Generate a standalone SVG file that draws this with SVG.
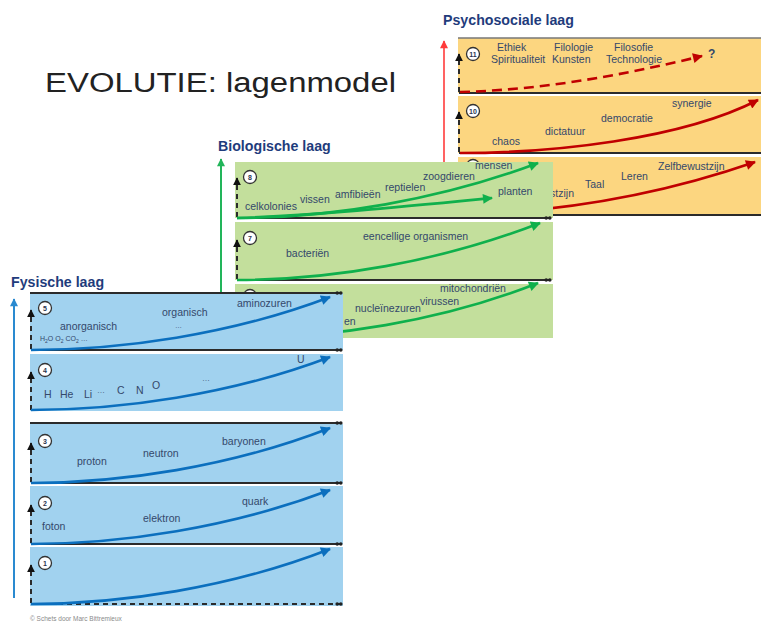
<svg xmlns="http://www.w3.org/2000/svg" width="761" height="623" viewBox="0 0 761 623">
<style>
text{font-family:"Liberation Sans",Arial,sans-serif;fill:#34486b}
.lb{font-size:10.5px}
.ttl{font-size:14.2px;font-weight:bold;fill:#1f3c7c}
.num{font-size:7px;font-weight:bold;text-anchor:middle;fill:#2a3550}
.py{fill:#fcd680}
.bg{fill:#c3df9c}
.bl{fill:#a1d2ef}
.ax{stroke:#2b2b2b;stroke-width:1.8;fill:none}
.axd{stroke:#2b2b2b;stroke-width:2;stroke-dasharray:5 4;fill:none}
.cir{fill:#fff;stroke:#333;stroke-width:1.3}
.cr{stroke:#c00000;stroke-width:2.6;fill:none}
.cg{stroke:#0fb04c;stroke-width:2.6;fill:none}
.cb{stroke:#0b6fbe;stroke-width:2.6;fill:none}
</style>
<defs>
<marker id="mr" viewBox="0 0 10 10" refX="9" refY="5" markerWidth="12" markerHeight="10" markerUnits="userSpaceOnUse" orient="auto"><path d="M0,0L10,5L0,10z" fill="#c00000"/></marker>
<marker id="mg" viewBox="0 0 10 10" refX="9" refY="5" markerWidth="12" markerHeight="10" markerUnits="userSpaceOnUse" orient="auto"><path d="M0,0L10,5L0,10z" fill="#0fb04c"/></marker>
<marker id="mb" viewBox="0 0 10 10" refX="9" refY="5" markerWidth="12" markerHeight="10" markerUnits="userSpaceOnUse" orient="auto"><path d="M0,0L10,5L0,10z" fill="#0b6fbe"/></marker>
<marker id="mk" viewBox="0 0 10 10" refX="9" refY="5" markerWidth="8" markerHeight="8" markerUnits="userSpaceOnUse" orient="auto"><path d="M0,0L10,5L0,10z" fill="#111"/></marker>
<marker id="mlr" viewBox="0 0 10 10" refX="9" refY="5" markerWidth="9" markerHeight="8" markerUnits="userSpaceOnUse" orient="auto"><path d="M0,0L10,5L0,10z" fill="#ff3b3b"/></marker>
<marker id="mlg" viewBox="0 0 10 10" refX="9" refY="5" markerWidth="9" markerHeight="8" markerUnits="userSpaceOnUse" orient="auto"><path d="M0,0L10,5L0,10z" fill="#22b55a"/></marker>
<marker id="mlb" viewBox="0 0 10 10" refX="9" refY="5" markerWidth="9" markerHeight="8" markerUnits="userSpaceOnUse" orient="auto"><path d="M0,0L10,5L0,10z" fill="#2a8ad0"/></marker>
<marker id="mt" viewBox="0 0 8 6" refX="7" refY="3" markerWidth="8" markerHeight="6" markerUnits="userSpaceOnUse" orient="auto"><circle cx="2.2" cy="3" r="1.8" fill="#222"/><circle cx="5.8" cy="3" r="1.8" fill="#222"/></marker>
</defs>
<rect width="761" height="623" fill="#fff"/>
<text x="45" y="92" font-size="27" textLength="351" lengthAdjust="spacingAndGlyphs" style="fill:#222">EVOLUTIE: lagenmodel</text>

<!-- Psychosociale laag -->
<g id="layer-psychosociaal">
<text class="ttl" x="443" y="25">Psychosociale laag</text>
<line x1="444" y1="215" x2="444" y2="41" stroke="#ff3b3b" stroke-width="1.6" marker-end="url(#mlr)"/>
</g>
<g id="panel-11">
<rect class="py" x="458" y="38" width="303" height="55"/>
<line x1="458" y1="38" x2="761" y2="38" stroke="#777" stroke-width="1.5"/>
<line class="ax" x1="459" y1="93" x2="761" y2="93"/>
<path class="axd" d="M459,92V54" marker-end="url(#mk)"/>
<circle class="cir" cx="473" cy="54" r="6.5"/><text class="num" x="473" y="56.5">11</text>
<text class="lb" x="497" y="51">Ethiek</text>
<text class="lb" x="554" y="51">Filologie</text>
<text class="lb" x="614" y="51">Filosofie</text>
<text class="lb" x="491" y="63">Spiritualiteit</text>
<text class="lb" x="552" y="63">Kunsten</text>
<text class="lb" x="606" y="63">Technologie</text>
<text x="708" y="58" font-size="12" font-weight="bold">?</text>
</g>
<g id="panel-10">
<rect class="py" x="458" y="96" width="303" height="57"/>
<line class="ax" x1="459" y1="153" x2="761" y2="153"/>
<path class="axd" d="M459,152V112" marker-end="url(#mk)"/>
<circle class="cir" cx="473" cy="111" r="6.5"/><text class="num" x="473" y="113.5">10</text>
<text class="lb" x="672" y="107">synergie</text>
<text class="lb" x="601" y="122">democratie</text>
<text class="lb" x="545" y="135">dictatuur</text>
<text class="lb" x="492" y="145">chaos</text>
</g>
<g id="panel-9">
<rect class="py" x="458" y="157" width="303" height="58"/>
<line class="ax" x1="459" y1="215" x2="761" y2="215"/>
<path class="axd" d="M459,214V172" marker-end="url(#mk)"/>
<circle class="cir" cx="473" cy="166" r="6.5"/>
<text class="lb" x="658" y="170">Zelfbewustzijn</text>
<text class="lb" x="621" y="180">Leren</text>
<text class="lb" x="585" y="188">Taal</text>
<text class="lb" x="574" y="197" text-anchor="end">stzijn</text>
</g>
<g id="connectors-psychosociaal">
<path class="cr" d="M460,92C540,90 620,76 702,56" stroke-width="3" stroke-dasharray="10 6" marker-end="url(#mr)"/>
<path class="cr" d="M460,153C550,153 680,140 758,100" marker-end="url(#mr)"/>
<path class="cr" d="M460,215C560,212 660,195 755,162" marker-end="url(#mr)"/>
</g>

<!-- Biologische laag -->
<g id="layer-biologisch">
<text class="ttl" x="218" y="151">Biologische laag</text>
<line x1="221" y1="335" x2="221" y2="159" stroke="#22b55a" stroke-width="2" marker-end="url(#mlg)"/>
</g>
<g id="panel-8">
<rect class="bg" x="235" y="162" width="318" height="56"/>
<line class="ax" x1="237" y1="218" x2="551" y2="218" marker-end="url(#mt)"/>
<path class="axd" d="M237,217V178" marker-end="url(#mk)"/>
<circle class="cir" cx="250" cy="177" r="6.5"/><text class="num" x="250" y="179.5">8</text>
<text class="lb" x="245" y="210">celkolonies</text>
<text class="lb" x="300" y="203">vissen</text>
<text class="lb" x="335" y="198">amfibieën</text>
<text class="lb" x="385" y="191">reptielen</text>
<text class="lb" x="423" y="180">zoogdieren</text>
<text class="lb" x="475" y="169">mensen</text>
<text class="lb" x="498" y="195">planten</text>
</g>
<g id="panel-7">
<rect class="bg" x="235" y="222" width="318" height="58"/>
<line class="ax" x1="237" y1="280" x2="551" y2="280" marker-end="url(#mt)"/>
<path class="axd" d="M237,279V240" marker-end="url(#mk)"/>
<circle class="cir" cx="250" cy="238" r="6.5"/><text class="num" x="250" y="240.5">7</text>
<text class="lb" x="363" y="240">eencellige organismen</text>
<text class="lb" x="286" y="257">bacteriën</text>
</g>
<g id="panel-6">
<rect class="bg" x="235" y="284" width="318" height="54"/>
<circle class="cir" cx="250" cy="296" r="6.5"/>
<text class="lb" x="440" y="292">mitochondriën</text>
<text class="lb" x="420" y="305">virussen</text>
<text class="lb" x="355" y="312">nucleïnezuren</text>
<text class="lb" x="344" y="325">en</text>
</g>
<g id="connectors-biologisch">
<path class="cg" d="M237,218C330,218 440,200 538,163" marker-end="url(#mg)"/>
<path class="cg" d="M237,218C320,215 400,207 492,198" marker-end="url(#mg)"/>
<path class="cg" d="M237,280C330,280 440,262 540,223" marker-end="url(#mg)"/>
<path class="cg" d="M237,338C330,338 440,322 538,283" marker-end="url(#mg)"/>
</g>

<!-- Fysische laag -->
<g id="layer-fysisch">
<text class="ttl" x="11" y="287">Fysische laag</text>
<line x1="14" y1="598" x2="14" y2="299" stroke="#2a8ad0" stroke-width="2" marker-end="url(#mlb)"/>
</g>
<g id="panel-5">
<rect class="bl" x="30" y="293" width="313" height="57"/>
<line class="ax" x1="30" y1="293" x2="342" y2="293" stroke="#444" marker-end="url(#mt)"/>
<line class="ax" x1="31" y1="350" x2="342" y2="350" marker-end="url(#mt)"/>
<path class="axd" d="M31,349V310" marker-end="url(#mk)"/>
<circle class="cir" cx="45" cy="308" r="6.5"/><text class="num" x="45" y="310.5">5</text>
<text class="lb" x="237" y="307">aminozuren</text>
<text class="lb" x="162" y="316">organisch</text>
<text x="175" y="328" font-size="7">…</text>
<text class="lb" x="60" y="330">anorganisch</text>
<text x="40" y="341" font-size="7">H<tspan font-size="5" dy="1.5">2</tspan><tspan dy="-1.5">O  O</tspan><tspan font-size="5" dy="1.5">2</tspan><tspan dy="-1.5">  CO</tspan><tspan font-size="5" dy="1.5">2</tspan><tspan dy="-1.5">  …</tspan></text>
</g>
<g id="panel-4">
<rect class="bl" x="30" y="354" width="313" height="57"/>
<path class="axd" d="M31,410V372" marker-end="url(#mk)"/>
<circle class="cir" cx="45" cy="370" r="6.5"/><text class="num" x="45" y="372.5">4</text>
<text class="lb" x="297" y="363">U</text>
<text x="202" y="381" font-size="8">…</text>
<text class="lb" x="44" y="398">H</text>
<text class="lb" x="60" y="398">He</text>
<text class="lb" x="84" y="398">Li</text>
<text x="97" y="393" font-size="8">…</text>
<text class="lb" x="117" y="394">C</text>
<text class="lb" x="136" y="394">N</text>
<text class="lb" x="152" y="389">O</text>
</g>
<g id="panel-3">
<rect class="bl" x="30" y="424" width="313" height="59"/>
<line class="ax" x1="30" y1="423" x2="342" y2="423" marker-end="url(#mt)"/>
<line class="ax" x1="31" y1="483" x2="342" y2="483" marker-end="url(#mt)"/>
<path class="axd" d="M31,482V443" marker-end="url(#mk)"/>
<circle class="cir" cx="45" cy="441" r="6.5"/><text class="num" x="45" y="443.5">3</text>
<text class="lb" x="222" y="445">baryonen</text>
<text class="lb" x="143" y="457">neutron</text>
<text class="lb" x="77" y="465">proton</text>
</g>
<g id="panel-2">
<rect class="bl" x="30" y="486" width="313" height="58"/>
<line class="ax" x1="31" y1="544" x2="342" y2="544" marker-end="url(#mt)"/>
<path class="axd" d="M31,543V505" marker-end="url(#mk)"/>
<circle class="cir" cx="45" cy="503" r="6.5"/><text class="num" x="45" y="505.5">2</text>
<text class="lb" x="242" y="505">quark</text>
<text class="lb" x="143" y="522">elektron</text>
<text class="lb" x="42" y="530">foton</text>
</g>
<g id="panel-1">
<rect class="bl" x="30" y="547" width="313" height="59"/>
<line class="axd" x1="31" y1="604" x2="342" y2="604" stroke-dasharray="9 5" marker-end="url(#mt)"/>
<path class="axd" d="M31,603V565" marker-end="url(#mk)"/>
<circle class="cir" cx="45" cy="563" r="6.5"/><text class="num" x="45" y="565.5">1</text>
</g>
<g id="connectors-fysisch">
<path class="cb" d="M31,350C120,350 230,335 330,297" marker-end="url(#mb)"/>
<path class="cb" d="M31,410C120,410 230,395 330,357" marker-end="url(#mb)"/>
<path class="cb" d="M31,483C120,483 230,467 330,428" marker-end="url(#mb)"/>
<path class="cb" d="M31,544C120,544 230,528 330,490" marker-end="url(#mb)"/>
<path class="cb" d="M31,604C120,604 230,588 330,549" marker-end="url(#mb)"/>
</g>
<text x="30" y="621" font-size="6.5" style="fill:#8a8a8a">© Schets door Marc Bittremieux</text>
</svg>
